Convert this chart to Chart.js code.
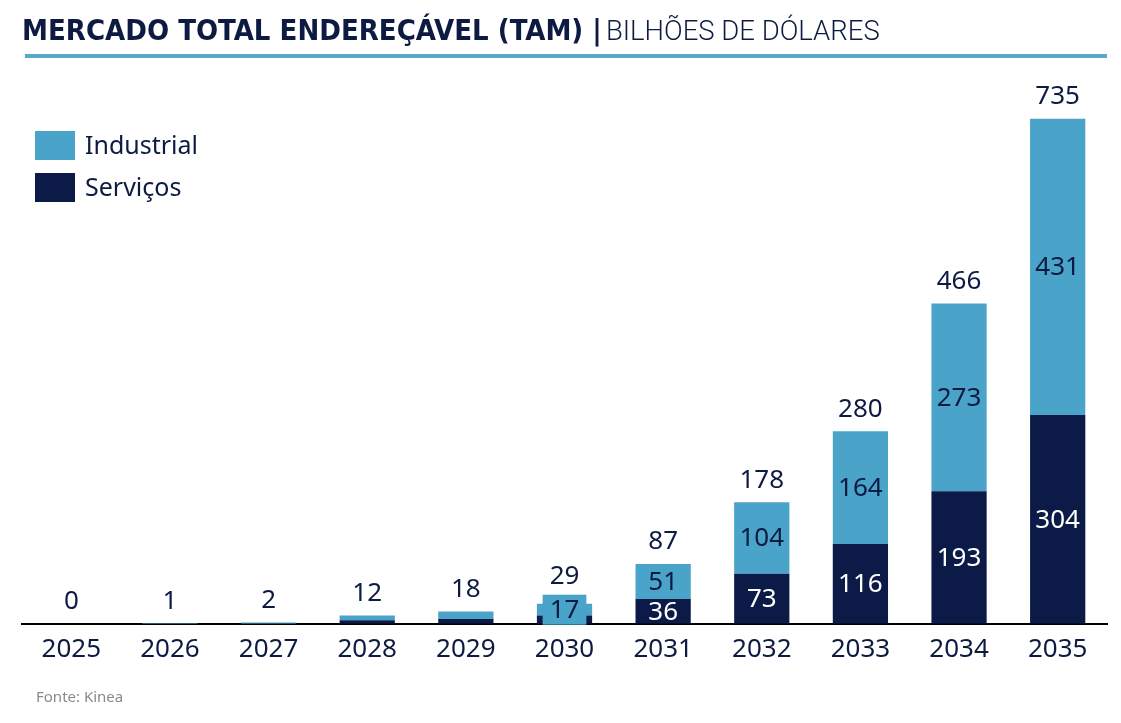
<!DOCTYPE html>
<html>
<head>
<meta charset="utf-8">
<script src="https://cdn.jsdelivr.net/npm/chart.js@4.4.1/dist/chart.umd.min.js"></script>
<style>
  body { margin: 0; background: #fff; }
  #wrap { position: relative; width: 1121px; height: 723px; overflow: hidden; }
  #title { position: absolute; left: 22px; top: 13px; white-space: nowrap; color: #0d1b42; }
  #title b { font-family: "DejaVu Sans Condensed", "DejaVu Sans"; font-weight: bold; font-size: 29px; }
  #title span { font-family: "Roboto"; font-weight: 300; font-size: 27.5px; }
  #rule { position: absolute; left: 25px; top: 54px; width: 1082px; height: 4px; background: #5aa7c8; }
  .leg { position: absolute; left: 35px; font-family: "Noto Sans"; font-size: 25px; color: #0d1b42; }
  .leg i { position: absolute; left: 0; top: 4px; width: 40px; height: 29px; }
  .leg span { position: absolute; left: 50px; top: 0px; white-space: nowrap; }
  #src { position: absolute; left: 36px; top: 686px; font-family: "Noto Sans"; font-size: 15px; color: #8a8a8a; }
  canvas { position: absolute; left: 0; top: 0; }
</style>
</head>
<body>
<div id="wrap">
  <canvas id="tam" width="1121" height="723"></canvas>
  <div id="title"><b>MERCADO TOTAL ENDEREÇÁVEL (TAM) |</b> <span>BILHÕES DE DÓLARES</span></div>
  <div id="rule"></div>
  <div class="leg" style="top:127px"><i style="background:#4aa3c8"></i><span>Industrial</span></div>
  <div class="leg" style="top:169px"><i style="background:#0b1a47"></i><span>Serviços</span></div>
  <div id="src">Fonte: Kinea</div>
</div>
<script>
const years = ['2025', '2026', '2027', '2028', '2029', '2030', '2031', '2032', '2033', '2034', '2035'];
const servicos = [0, 0, 0, 5, 7, 12, 36, 73, 116, 193, 304];
const industrial = [0, 1, 2, 7, 11, 17, 51, 104, 164, 273, 431];
const totals = [0, 1, 2, 12, 18, 29, 87, 178, 280, 466, 735];

const navy = '#0b1a47';
const lightBlue = '#4aa3c8';
const textColor = '#0d1b42';
const labelFont = '26px "Noto Sans"';

// draws totals and the values inside the segments
const barLabels = {
    id: 'barLabels',
    afterDatasetsDraw(chart) {
        const ctx = chart.ctx;
        ctx.save();
        ctx.font = labelFont;
        ctx.textAlign = 'center';
        ctx.textBaseline = 'middle';
        const topMeta = chart.getDatasetMeta(1);
        for (let i = 0; i < years.length; i++) {
            let highest = topMeta.data[i].y;
            chart.data.datasets.forEach((ds, d) => {
                const v = ds.data[i];
                if (v < 15) return;
                const bar = chart.getDatasetMeta(d).data[i];
                const cy = (bar.y + bar.base) / 2;
                const h = bar.base - bar.y;
                if (h < 20) {
                    // too thin, draw a box behind it
                    const w = ctx.measureText(String(v)).width + 14;
                    ctx.fillStyle = ds.backgroundColor;
                    ctx.fillRect(bar.x - w / 2, cy - 15, w, 30);
                    highest = Math.min(highest, cy - 15);
                    ctx.fillStyle = textColor;
                } else {
                    ctx.fillStyle = d === 0 ? '#ffffff' : textColor;
                }
                ctx.fillText(String(v), bar.x, cy + 1);
            });
            ctx.fillStyle = textColor;
            const off = highest < topMeta.data[i].y ? 18 : 22;
            ctx.fillText(String(totals[i]), topMeta.data[i].x, highest - off);
        }
        ctx.restore();
    }
};

new Chart(document.getElementById('tam'), {
    type: 'bar',
    data: {
        labels: years,
        datasets: [
            { label: 'Serviços', data: servicos, backgroundColor: navy },
            { label: 'Industrial', data: industrial, backgroundColor: lightBlue }
        ]
    },
    options: {
        responsive: false,
        animation: false,
        layout: { padding: { top: 74, left: 22, right: 14, bottom: 56 } },
        plugins: { legend: { display: false }, tooltip: { enabled: false } },
        datasets: { bar: { barPercentage: 0.56, categoryPercentage: 1 } },
        scales: {
            x: {
                stacked: true,
                grid: { display: false },
                border: { display: true, color: '#000', width: 2 },
                ticks: { color: textColor, font: { family: 'Noto Sans', size: 26 }, padding: 2 }
            },
            y: {
                stacked: true,
                display: false,
                min: 0,
                max: 800
            }
        }
    },
    plugins: [barLabels]
});
</script>
</body>
</html>
